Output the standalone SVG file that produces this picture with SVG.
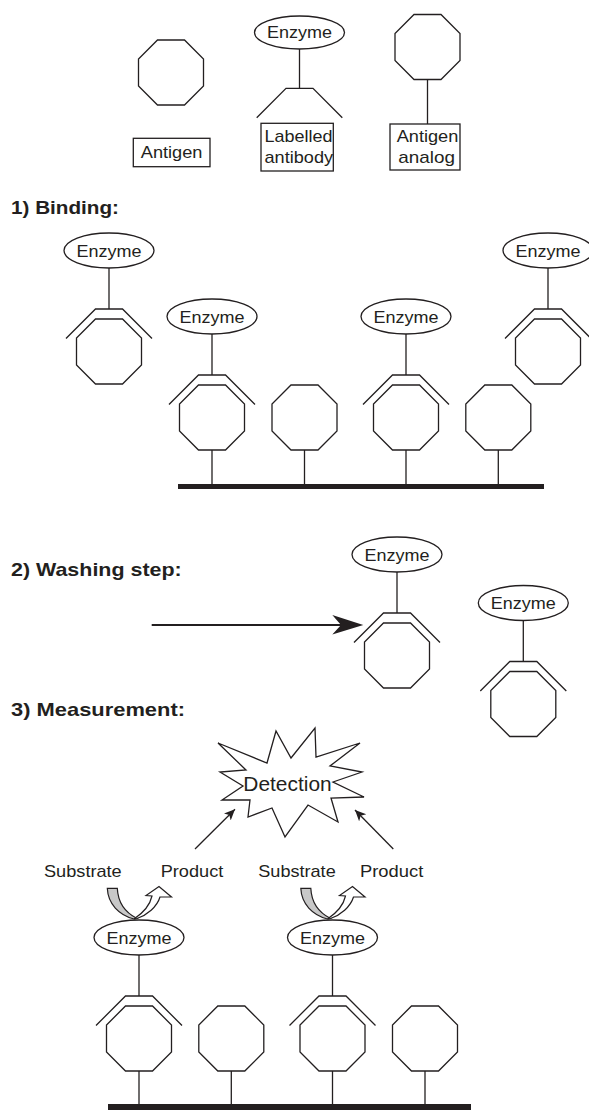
<svg xmlns="http://www.w3.org/2000/svg" xmlns:xlink="http://www.w3.org/1999/xlink" width="589" height="1111" viewBox="0 0 589 1111">
<style>
  .ln { fill: none; stroke: #231f20; stroke-width: 1.3; }
  .oc { fill: #ffffff; stroke: #231f20; stroke-width: 1.3; }
  .el { fill: #ffffff; stroke: #231f20; stroke-width: 1.3; }
  .bx { fill: #ffffff; stroke: #231f20; stroke-width: 1.3; }
  .t { font-family: "Liberation Sans", Arial, Helvetica, sans-serif; font-size: 17px; fill: #231f20; }
  .tc { text-anchor: middle; }
  .h { font-family: "Liberation Sans", Arial, Helvetica, sans-serif; font-size: 19px; font-weight: bold; fill: #231f20; }
  .bar { fill: #231f20; }
  .gray { fill: #c8c8c8; stroke: #231f20; stroke-width: 1.2; }
  .hol { fill: #ffffff; stroke: #231f20; stroke-width: 1.2; }
</style>
<defs>
  <polygon id="oct" class="oc" points="-13.5,-32.5 13.5,-32.5 32.5,-13.5 32.5,13.5 13.5,32.5 -13.5,32.5 -32.5,13.5 -32.5,-13.5"/>
  <polyline id="ab" class="ln" points="-43,-13 -13.5,-42.5 13.5,-42.5 43,-13"/>
  <g id="cplx">
    <ellipse class="el" cx="0" cy="-101" rx="45" ry="17.5"/>
    <text class="t tc" x="0" y="-95" textLength="65" lengthAdjust="spacingAndGlyphs">Enzyme</text>
    <line class="ln" x1="0" y1="-83.5" x2="0" y2="-42.5"/>
    <use xlink:href="#ab"/>
    <use xlink:href="#oct"/>
  </g>
  <marker id="ah" markerUnits="userSpaceOnUse" markerWidth="14" markerHeight="12" refX="11" refY="5" orient="auto">
    <path d="M0,0 L11,5 L0,10 L3,5 Z" fill="#231f20"/>
  </marker>
</defs>

<!-- Legend -->
<g id="legend-antigen">
  <use xlink:href="#oct" x="171" y="72.5"/>
  <rect class="bx" x="133.3" y="138.3" width="76.7" height="28.4"/>
  <text class="t tc" x="171.6" y="158.3" textLength="61.7" lengthAdjust="spacingAndGlyphs">Antigen</text>
</g>
<g id="legend-antibody">
  <ellipse class="el" cx="299.5" cy="32.5" rx="45" ry="16.5"/>
  <text class="t tc" x="299.5" y="38" textLength="65" lengthAdjust="spacingAndGlyphs">Enzyme</text>
  <line class="ln" x1="299.5" y1="49" x2="299.5" y2="88.3"/>
  <polyline class="ln" points="256.7,117.7 286,88.3 313,88.3 342.3,117.7"/>
  <rect class="bx" x="261" y="123.3" width="72.3" height="47.7"/>
  <text class="t tc" x="298.6" y="141.5" textLength="68" lengthAdjust="spacingAndGlyphs">Labelled</text>
  <text class="t tc" x="298.8" y="162.5" textLength="68.5" lengthAdjust="spacingAndGlyphs">antibody</text>
</g>
<g id="legend-analog">
  <use xlink:href="#oct" x="427.5" y="47"/>
  <line class="ln" x1="427.5" y1="79.5" x2="427.5" y2="124"/>
  <rect class="bx" x="390" y="124" width="70" height="46"/>
  <text class="t tc" x="427.5" y="141.5" textLength="61.7" lengthAdjust="spacingAndGlyphs">Antigen</text>
  <text class="t tc" x="426.7" y="162.5" textLength="56.7" lengthAdjust="spacingAndGlyphs">analog</text>
</g>

<!-- Headings -->
<g id="heading-binding"><text class="h" x="11" y="214" textLength="108" lengthAdjust="spacingAndGlyphs">1) Binding:</text></g>
<g id="heading-washing"><text class="h" x="11" y="575.7" textLength="170.7" lengthAdjust="spacingAndGlyphs">2) Washing step:</text></g>
<g id="heading-measurement"><text class="h" x="11" y="716" textLength="174" lengthAdjust="spacingAndGlyphs">3) Measurement:</text></g>

<!-- 1) Binding -->
<g id="bind-free-left"><use xlink:href="#cplx" x="109" y="351.5"/></g>
<g id="bind-free-right"><use xlink:href="#cplx" x="548" y="351.5"/></g>
<g id="bind-surface">
  <rect class="bar" x="178" y="484" width="366" height="5"/>
  <line class="ln" x1="212" y1="450" x2="212" y2="484"/>
  <line class="ln" x1="304.5" y1="450" x2="304.5" y2="484"/>
  <line class="ln" x1="406" y1="450" x2="406" y2="484"/>
  <line class="ln" x1="498.3" y1="450" x2="498.3" y2="484"/>
</g>
<g id="bind-bound-1"><use xlink:href="#cplx" x="212" y="417.5"/></g>
<g id="bind-analog-1"><use xlink:href="#oct" x="304.5" y="417.5"/></g>
<g id="bind-bound-2"><use xlink:href="#cplx" x="406" y="417.5"/></g>
<g id="bind-analog-2"><use xlink:href="#oct" x="498.3" y="417.5"/></g>

<!-- 2) Washing -->
<g id="wash-complex-1"><use xlink:href="#cplx" x="397" y="655.5"/></g>
<g id="wash-complex-2"><use xlink:href="#cplx" x="523.3" y="704"/></g>

<!-- 3) Measurement -->
<g id="detection">
  <polygon class="ln" points="218,743 267,763 276,731 291,758 315,728 316,757 360,743 330,766 362,772 333,782 364,797 331,798 338,822 308,805 285,837 272,808 248,817 250,800 222,800 243,786 220,772 246,770"/>
  <text class="t tc" x="287.5" y="791" style="font-size:20px" textLength="88.3" lengthAdjust="spacingAndGlyphs">Detection</text>
</g>
<g id="label-substrate-1"><text class="t" x="44" y="876.7" textLength="77.7" lengthAdjust="spacingAndGlyphs">Substrate</text></g>
<g id="label-product-1"><text class="t" x="160.7" y="876.7" textLength="62.6" lengthAdjust="spacingAndGlyphs">Product</text></g>
<g id="label-substrate-2"><text class="t" x="258.3" y="876.7" textLength="77.4" lengthAdjust="spacingAndGlyphs">Substrate</text></g>
<g id="label-product-2"><text class="t" x="360" y="876.7" textLength="63.3" lengthAdjust="spacingAndGlyphs">Product</text></g>

<g id="meas-surface">
  <rect class="bar" x="108" y="1104" width="363" height="6"/>
  <line class="ln" x1="139" y1="1071" x2="139" y2="1104"/>
  <line class="ln" x1="231.3" y1="1071" x2="231.3" y2="1104"/>
  <line class="ln" x1="332.5" y1="1071" x2="332.5" y2="1104"/>
  <line class="ln" x1="425" y1="1071" x2="425" y2="1104"/>
</g>
<g id="meas-bound-1"><use xlink:href="#cplx" x="139" y="1038.5"/></g>
<g id="meas-analog-1"><use xlink:href="#oct" x="231.3" y="1038.5"/></g>
<g id="meas-bound-2"><use xlink:href="#cplx" x="332.5" y="1038.5"/></g>
<g id="meas-analog-2"><use xlink:href="#oct" x="425" y="1038.5"/></g>

<!-- Connectors -->
<g id="connectors">
  <line x1="151.7" y1="625" x2="342" y2="625" stroke="#231f20" stroke-width="2"/>
  <path d="M363.3,625 L332.3,615 L341,625 L332.3,634.5 Z" fill="#231f20"/>
  <line x1="195" y1="849" x2="235" y2="809.3" stroke="#231f20" stroke-width="1.3" marker-end="url(#ah)"/>
  <line x1="393.3" y1="849" x2="355" y2="810" stroke="#231f20" stroke-width="1.3" marker-end="url(#ah)"/>
  <g id="conv-1">
    <path class="gray" d="M107.3,888.3 L117.3,888.3 C118,903 126,913 137,918.5 L134,919 C119,915 108,904 107.3,888.3 Z"/>
    <path class="hol" d="M134,919 C143,913 150,905 152,896 L146,895.5 L159,886.5 L171.5,897 L160,897 C157,907 147,915 137,918.5 Z"/>
  </g>
  <g id="conv-2" transform="translate(193.5,0)">
    <path class="gray" d="M107.3,888.3 L117.3,888.3 C118,903 126,913 137,918.5 L134,919 C119,915 108,904 107.3,888.3 Z"/>
    <path class="hol" d="M134,919 C143,913 150,905 152,896 L146,895.5 L159,886.5 L171.5,897 L160,897 C157,907 147,915 137,918.5 Z"/>
  </g>
</g>
</svg>
